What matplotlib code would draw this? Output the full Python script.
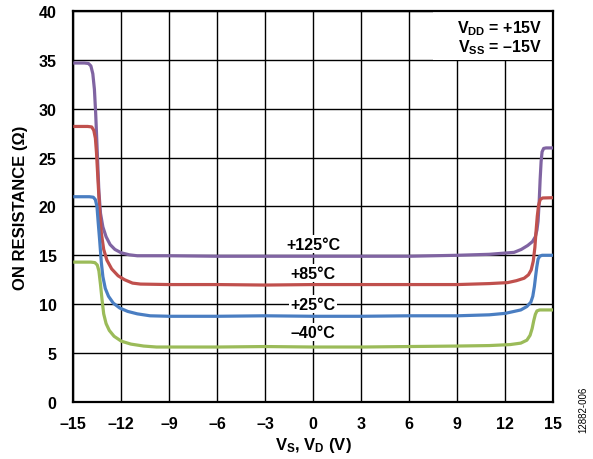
import numpy as np
import matplotlib
matplotlib.use("Agg")
from matplotlib import pyplot as plt
from matplotlib.patches import Rectangle

plt.rcParams['font.family'] = ['Liberation Sans', 'DejaVu Sans']
plt.rcParams['font.weight'] = 'bold'
plt.rcParams['mathtext.fontset'] = 'custom'
plt.rcParams['mathtext.rm'] = 'Liberation Sans:bold'
plt.rcParams['mathtext.default'] = 'rm'

# values (VS/VD in V, RON in ohm)
vs_125 = [-15, -14.3, -14.05, -13.9, -13.78, -13.68, -13.6, -13.5, -13.4, -13.3, -13.15, -12.95,
          -12.7, -12.4, -12.0, -11.5, -11, -9, -6, -3, 0, 3, 6, 9, 11, 12.55, 13.0, 13.4,
          13.7, 13.88, 13.98, 14.05, 14.12, 14.18, 14.24, 14.3, 14.4, 14.55, 15]
ron_125 = [34.7, 34.7, 34.65, 34.4, 33.6, 32.0, 29.5, 25.5, 21.5, 19.3, 17.9, 16.9,
           16.1, 15.6, 15.25, 15.05, 14.95, 14.95, 14.9, 14.9, 14.9, 14.9, 14.9, 15.0, 15.1, 15.3, 15.6, 16.0,
           16.4, 16.9, 17.6, 18.5, 20.5, 22.8, 24.6, 25.6, 25.95, 26.0, 26.0]

vs_85 = [-15, -14.1, -13.85, -13.72, -13.62, -13.55, -13.45, -13.35, -13.25, -13.1, -12.9, -12.6,
         -12.2, -11.8, -11.3, -10.8, -9, -6, -3, 0, 3, 6, 9, 11, 12.15, 12.7, 13.18, 13.45,
         13.62, 13.75, 13.85, 13.93, 14.0, 14.08, 14.18, 14.33, 15]
ron_85 = [28.2, 28.2, 28.15, 27.8, 27.0, 25.5, 22.5, 19.5, 17.3, 15.6, 14.5, 13.6,
          12.9, 12.5, 12.15, 12.05, 12.0, 12.0, 11.95, 12.0, 12.0, 12.0, 12.0, 12.1, 12.2, 12.4, 12.65, 13.0,
          13.5, 14.4, 15.8, 17.6, 19.0, 20.1, 20.7, 20.87, 20.9]

vs_25 = [-15, -14.0, -13.75, -13.62, -13.52, -13.45, -13.35, -13.25, -13.15, -13.0, -12.8, -12.5,
         -12.1, -11.6, -11, -10.2, -9, -6, -3, 0, 3, 6, 9, 11, 12.0, 12.97, 13.35, 13.6,
         13.72, 13.82, 13.9, 13.97, 14.05, 14.15, 14.3, 15]
ron_25 = [21.0, 21.0, 20.95, 20.7, 20.0, 18.5, 16.5, 14.3, 12.8, 11.6, 10.8, 10.1,
          9.6, 9.25, 9.0, 8.8, 8.75, 8.75, 8.8, 8.75, 8.75, 8.8, 8.8, 8.9, 9.05, 9.4, 9.75, 10.2,
          10.8, 11.8, 12.9, 13.8, 14.6, 14.9, 15.0, 15.0]

vs_m40 = [-15, -13.9, -13.65, -13.5, -13.4, -13.3, -13.2, -13.1, -12.95, -12.75, -12.45, -12.0,
          -11.4, -10.6, -9.8, -6, -3, 0, 3, 6, 9, 11, 12.3, 12.97, 13.35, 13.55, 13.68,
          13.78, 13.88, 13.98, 14.15, 15]
ron_m40 = [14.3, 14.3, 14.25, 14.0, 13.4, 12.0, 10.4, 9.0, 8.0, 7.3, 6.7, 6.2,
           5.9, 5.7, 5.6, 5.6, 5.65, 5.6, 5.6, 5.65, 5.7, 5.75, 5.85, 6.0, 6.3, 6.8, 7.5,
           8.3, 8.95, 9.3, 9.4, 9.4]

temp_labels = ['+125°C', '+85°C', '+25°C', '–40°C']
label_y = [16.15, 13.15, 10.0, 7.1]
colors = ['#8064A2', '#C0504D', '#4A7EC2', '#9BBB59']

xticks = [-15, -12, -9, -6, -3, 0, 3, 6, 9, 12, 15]
xticklabels = ['–15', '–12', '–9', '–6', '–3', '0', '3', '6', '9', '12', '15']
yticks = [0, 5, 10, 15, 20, 25, 30, 35, 40]

fig = plt.figure(figsize=(5.93, 4.60), dpi=100)
ax = fig.add_axes([0.1236, 0.1246, 0.8094, 0.8487])

ax.set_axisbelow(True)
ax.grid(True, color='black', linewidth=1.0)

# white box behind supply text
ax.add_patch(Rectangle((7.5, 35), 7.5, 5, facecolor='white', edgecolor='none', zorder=1))

curves = [(vs_125, ron_125), (vs_85, ron_85), (vs_25, ron_25), (vs_m40, ron_m40)]
for (xs, ys), c in zip(curves, colors):
    ax.plot(xs, ys, color=c, linewidth=2.3, zorder=3, solid_joinstyle='round',
            solid_capstyle='butt')

for lab, ly in zip(temp_labels, label_y):
    ax.text(0, ly, lab, ha='center', va='center', fontsize=11.5, fontweight='bold', zorder=2,
            bbox=dict(facecolor='white', edgecolor='none', pad=1.0))

ax.text(14.3, 39.3, 'V$_{DD}$ = +15V\nV$_{SS}$ = –15V', ha='right', va='top',
        fontsize=11.5, fontweight='bold', linespacing=1.0, zorder=4)

ax.set_xlim(-15, 15)
ax.set_ylim(0, 40)
ax.set_xticks(xticks)
ax.set_xticklabels(xticklabels)
ax.set_yticks(yticks)
ax.tick_params(length=0, labelsize=11.5, pad=10)
ax.tick_params(axis='y', pad=12)
for lab in ax.get_xticklabels() + ax.get_yticklabels():
    lab.set_fontweight('bold')
for s in ax.spines.values():
    s.set_linewidth(1.6)

ax.set_xlabel('V$_S$, V$_D$ (V)', fontsize=12, fontweight='bold', labelpad=3)
ax.set_ylabel('ON RESISTANCE (Ω)', fontsize=12, fontweight='bold', labelpad=8)

fig.text(0.984, 0.11, '12882-006', rotation=90, ha='center', va='center',
         fontsize=7, fontweight='normal')

fig.savefig('out.png', dpi=100)
